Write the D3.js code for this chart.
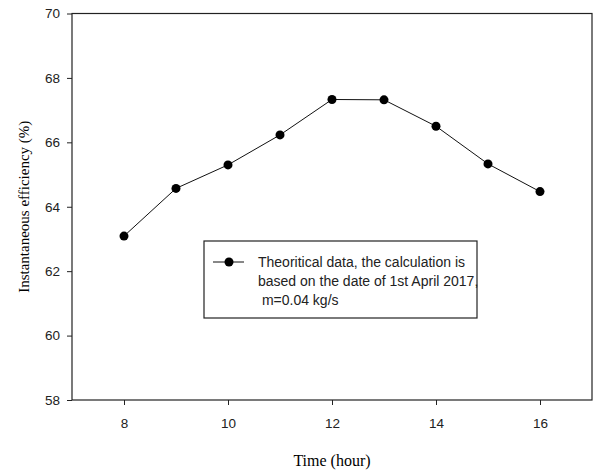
<!DOCTYPE html>
<html>
<head>
<meta charset="utf-8">
<script src="https://cdn.jsdelivr.net/npm/d3@7"></script>
<style>
  body { margin: 0; background: #fff; }
  svg { display: block; }
</style>
</head>
<body>
<div id="chart"></div>
<script>
// data
const hours = [8, 9, 10, 11, 12, 13, 14, 15, 16];
const efficiency = [63.09, 64.57, 65.30, 66.23, 67.33, 67.32, 66.50, 65.33, 64.47];
const xTicks = [8, 10, 12, 14, 16];
const yTicks = [58, 60, 62, 64, 66, 68, 70];
const legendLines = [
  "Theoritical data, the calculation is",
  "based on the date of 1st April 2017,",
  " m=0.04 kg/s"
];

const W = 595, H = 470;
const margin = { top: 13.5, right: 3, bottom: 70, left: 72 };
const width = W - margin.left - margin.right,
  height = H - margin.top - margin.bottom;

const sans = "'Liberation Sans', Arial, sans-serif";
const serif = "'Liberation Serif', 'Times New Roman', serif";

const svg = d3.select("#chart").append("svg")
  .attr("width", W)
  .attr("height", H);

const g = svg.append("g")
  .attr("transform", `translate(${margin.left},${margin.top})`);

const x = d3.scaleLinear().domain([7, 17]).range([0, width]);
const y = d3.scaleLinear().domain([58, 70]).range([height, 0]);

// x axis
const xAxis = g.append("g")
  .attr("transform", `translate(0,${height})`)
  .call(d3.axisBottom(x).tickValues(xTicks).tickSize(5).tickPadding(13).tickSizeOuter(0));
// y axis
const yAxis = g.append("g")
  .call(d3.axisLeft(y).tickValues(yTicks).tickSize(5).tickPadding(7).tickSizeOuter(0));

[xAxis, yAxis].forEach(a => {
  a.select(".domain").remove();
  a.selectAll("line").attr("stroke", "#222");
  a.selectAll("text")
    .attr("fill", "#222")
    .style("font-family", sans)
    .style("font-size", "13.5px");
});

// frame
g.append("rect")
  .attr("width", width)
  .attr("height", height)
  .attr("fill", "none")
  .attr("stroke", "#222")
  .attr("stroke-width", 1.2);

// line + markers
const pts = hours.map((h, i) => ({ h: h, v: efficiency[i] }));

g.append("path")
  .datum(pts)
  .attr("fill", "none")
  .attr("stroke", "#111")
  .attr("stroke-width", 1)
  .attr("d", d3.line().x(d => x(d.h)).y(d => y(d.v)));

g.selectAll(".pt")
  .data(pts)
  .enter()
  .append("circle")
  .attr("class", "pt")
  .attr("cx", d => x(d.h))
  .attr("cy", d => y(d.v))
  .attr("r", 4.5)
  .attr("fill", "#000");

// legend
const lg = svg.append("g");
lg.append("rect")
  .attr("x", 204).attr("y", 241)
  .attr("width", 273).attr("height", 77)
  .attr("fill", "#fff")
  .attr("stroke", "#222")
  .attr("stroke-width", 1.2);
lg.append("line")
  .attr("x1", 213).attr("x2", 244)
  .attr("y1", 262).attr("y2", 262)
  .attr("stroke", "#111");
lg.append("circle")
  .attr("cx", 229).attr("cy", 262).attr("r", 4.5)
  .attr("fill", "#000");
lg.selectAll(".lt")
  .data(legendLines)
  .enter()
  .append("text")
  .attr("class", "lt")
  .attr("x", 258)
  .attr("y", (d, i) => 262 + i * 19)
  .attr("dy", "0.35em")
  .attr("fill", "#222")
  .attr("xml:space", "preserve")
  .style("white-space", "pre")
  .style("font-family", sans)
  .style("font-size", "14px")
  .text(d => d);

// axis titles
svg.append("text")
  .attr("x", margin.left + x(12))
  .attr("y", 460)
  .attr("dy", "0.35em")
  .attr("text-anchor", "middle")
  .style("font-family", serif)
  .style("font-size", "16px")
  .text("Time (hour)");

svg.append("text")
  .attr("transform", `translate(24,${margin.top + height / 2}) rotate(-90)`)
  .attr("dy", "0.35em")
  .attr("text-anchor", "middle")
  .style("font-family", serif)
  .style("font-size", "15px")
  .text("Instantaneous efficiency (%)");
</script>
</body>
</html>
